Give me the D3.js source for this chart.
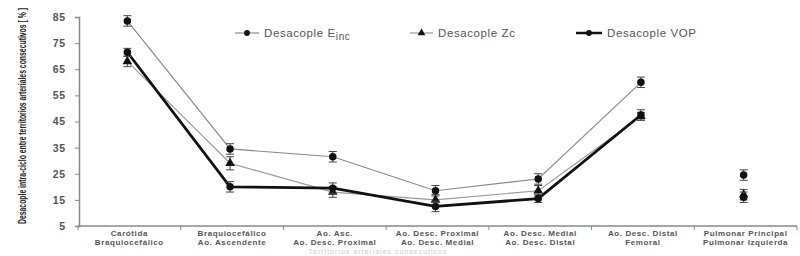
<!DOCTYPE html>
<html>
<head>
<meta charset="utf-8">
<script src="https://cdn.jsdelivr.net/npm/d3@7"></script>
<style>
  body { margin: 0; background: #fff; }
  svg { display: block; font-family: "Liberation Sans", Arial, sans-serif; }
</style>
</head>
<body>
<svg id="chart" width="800" height="256"></svg>
<script>
// categories (two-line labels)
const categories = [
  ["Carótida", "Braquiocefálico"],
  ["Braquiocefálico", "Ao. Ascendente"],
  ["Ao. Asc.", "Ao. Desc. Proximal"],
  ["Ao. Desc. Proximal", "Ao. Desc. Medial"],
  ["Ao. Desc. Medial", "Ao. Desc. Distal"],
  ["Ao. Desc. Distal", "Femoral"],
  ["Pulmonar Principal", "Pulmonar Izquierda"]
];
const yTicks = [5, 15, 25, 35, 45, 55, 65, 75, 85];

// series values and error bars
const eincValues = [83.5, 34.5, 31.5, 18.5, 23, 60, 24.5];
const eincErr    = [2, 2, 2, 2, 2, 2, 2];
const zcValues   = [68, 29, 18, 15, 18.5, 47, 17];
const zcErr      = [2, 2.5, 2, 2, 2, 1.5, 2];
const vopValues  = [71.5, 20, 19.5, 12.5, 15.5, 47.5, 16];
const vopErr     = [1.5, 2, 2, 2, 1.5, 2, 2];

const svg = d3.select("#chart");

const x = d3.scaleBand()
  .domain(d3.range(categories.length))
  .range([78, 797]);
const y = d3.scaleLinear().domain([5, 85]).range([226, 17]);
const cx = i => x(i) + x.bandwidth() / 2 - 2;

// y axis
const yAxis = d3.axisLeft(y).tickValues(yTicks).tickSize(4).tickPadding(9);
const gy = svg.append("g").attr("transform", "translate(79,0)").call(yAxis);
gy.select(".domain").attr("stroke", "#888").attr("stroke-width", 1.5);
gy.selectAll(".tick line").attr("stroke", "#888");
gy.selectAll(".tick text").attr("fill", "#555").attr("font-size", 10.5)
  .attr("font-weight", "bold").attr("letter-spacing", 0.8);

// x axis
const gx = svg.append("g").attr("transform", "translate(0,226)");
gx.append("line").attr("x1", 78).attr("x2", 797).attr("stroke", "#888").attr("stroke-width", 1.5);
gx.selectAll("line.tk").data(d3.range(categories.length + 1)).join("line")
  .attr("class", "tk")
  .attr("x1", i => i < categories.length ? x(i) : 797)
  .attr("x2", i => i < categories.length ? x(i) : 797)
  .attr("y1", 0).attr("y2", 4).attr("stroke", "#888");

svg.append("g").selectAll("text").data(categories).join("text")
  .attr("x", (d, i) => x(i) + x.bandwidth() / 2)
  .attr("y", 236)
  .attr("text-anchor", "middle")
  .attr("font-size", 8).attr("font-weight", "bold").attr("fill", "#555")
  .attr("letter-spacing", 0.6)
  .each(function (d) {
    const t = d3.select(this);
    t.append("tspan").attr("x", t.attr("x")).attr("dy", 0).text(d[0]);
    t.append("tspan").attr("x", t.attr("x")).attr("dy", 9).text(d[1]);
  });

// faint x title at the bottom edge
svg.append("text").attr("x", 378).attr("y", 254).attr("text-anchor", "middle")
  .attr("font-size", 7).attr("fill", "#ccc").attr("letter-spacing", 1)
  .text("Territorios arteriales consecutivos");

// y title, squeezed horizontally to fit the axis height
const yTitle = svg.append("text")
  .attr("font-size", 10.5).attr("font-weight", "bold").attr("fill", "#222")
  .text("Desacople intra-ciclo entre territorios arteriales consecutivos [ % ]");
const natural = yTitle.node().getComputedTextLength();
yTitle.attr("transform", `translate(26,224) rotate(-90) scale(${216 / natural},1)`);

const series = [
  { vals: eincValues, err: eincErr, stroke: "#8a8a8a", width: 1.2, marker: "circle" },
  { vals: zcValues, err: zcErr, stroke: "#9a9a9a", width: 1.2, marker: "triangle" },
  { vals: vopValues, err: vopErr, stroke: "#111", width: 2.8, marker: "circle" }
];

const line = d3.line()
  .defined((d, i) => i < 6)
  .x((d, i) => cx(i))
  .y(d => y(d));

series.forEach(s => {
  svg.append("path").datum(s.vals)
    .attr("d", line).attr("fill", "none")
    .attr("stroke", s.stroke).attr("stroke-width", s.width);
});

series.forEach(s => {
  const g = svg.append("g");
  s.vals.forEach((v, i) => {
    const px = cx(i);
    const eb = g.append("g").attr("stroke", "#444").attr("stroke-width", 1);
    eb.append("line").attr("x1", px).attr("x2", px).attr("y1", y(v + s.err[i])).attr("y2", y(v - s.err[i]));
    eb.append("line").attr("x1", px - 4).attr("x2", px + 4).attr("y1", y(v + s.err[i])).attr("y2", y(v + s.err[i]));
    eb.append("line").attr("x1", px - 4).attr("x2", px + 4).attr("y1", y(v - s.err[i])).attr("y2", y(v - s.err[i]));
    const sym = s.marker === "triangle" ? d3.symbolTriangle : d3.symbolCircle;
    g.append("path")
      .attr("d", d3.symbol(sym, s.marker === "triangle" ? 40 : 44)())
      .attr("transform", `translate(${px},${y(v)})`)
      .attr("fill", "#111");
  });
});

// legend
const legendItems = [
  { x: 235, w: 24, stroke: "#8a8a8a", width: 1.2, marker: "circle", label: "Desacople E", sub: "inc" },
  { x: 410, w: 23, stroke: "#9a9a9a", width: 1.2, marker: "triangle", label: "Desacople Zc" },
  { x: 576, w: 26, stroke: "#111", width: 2.5, marker: "circle", label: "Desacople VOP" }
];
const lg = svg.append("g");
legendItems.forEach(it => {
  lg.append("line").attr("x1", it.x).attr("x2", it.x + it.w).attr("y1", 33).attr("y2", 33)
    .attr("stroke", it.stroke).attr("stroke-width", it.width);
  lg.append("path")
    .attr("d", d3.symbol(it.marker === "triangle" ? d3.symbolTriangle : d3.symbolCircle, 26)())
    .attr("transform", `translate(${it.x + it.w / 2},33)`).attr("fill", "#111");
  const t = lg.append("text").attr("x", it.x + it.w + 5).attr("y", 37)
    .attr("font-size", 11.5).attr("fill", "#555").attr("letter-spacing", 0.6).text(it.label);
  if (it.sub) t.append("tspan").attr("dy", 3).attr("font-size", 10).text(it.sub);
});
</script>
</body>
</html>
